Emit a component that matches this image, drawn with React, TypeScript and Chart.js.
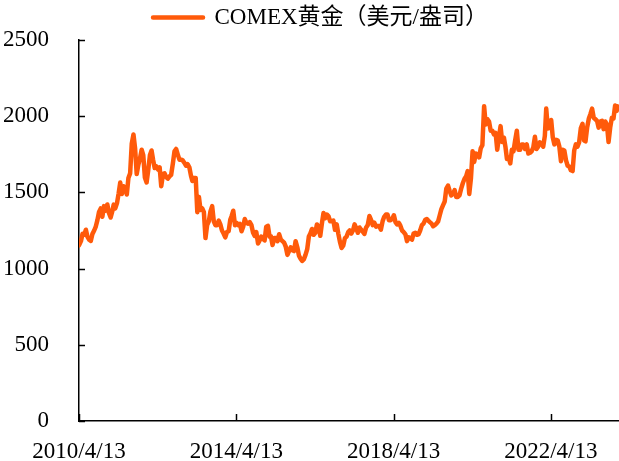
import React, { useEffect, useRef } from "react";
import { Chart, registerables } from "chart.js";

Chart.register(...registerables);

// ---------- data ----------
const SERIES_LABEL = "COMEX黄金（美元/盎司）";
const START_DATE = "2010-04-13";
const START_PRICE = 1152;
const END_DATE = "2023-12-20";
const END_PRICE = 2065;
const AXIS_END_DATE = "2024-01-06";

const X_TICK_DATES = ["2010-04-13", "2014-04-13", "2018-04-13", "2022-04-13"];
const X_TICK_LABELS = ["2010/4/13", "2014/4/13", "2018/4/13", "2022/4/13"];
const Y_MIN = 0;
const Y_MAX = 2500;
const Y_STEP = 500;

// semi-monthly closes (1st and 16th of each month), USD/oz
const FIRST_SLOT_2010 = 8; // 2010 series begins on May 1
const P2010 = [1180, 1228, 1222, 1255, 1208, 1190, 1182, 1228, 1250, 1276, 1318, 1372, 1395, 1340, 1410, 1380];
const P2011 = [1421, 1365, 1335, 1375, 1420, 1395, 1430, 1492, 1565, 1490, 1540, 1530, 1486, 1595, 1625, 1820, 1880, 1790, 1620, 1680, 1725, 1780, 1745, 1598];
const P2012 = [1565, 1645, 1745, 1775, 1715, 1660, 1670, 1650, 1665, 1540, 1620, 1625, 1600, 1590, 1605, 1615, 1690, 1770, 1785, 1750, 1715, 1715, 1710, 1695];
const P2013 = [1675, 1685, 1665, 1610, 1575, 1595, 1595, 1370, 1470, 1385, 1395, 1370, 1200, 1285, 1310, 1375, 1410, 1310, 1285, 1285, 1315, 1290, 1250, 1230];
const P2014 = [1205, 1240, 1245, 1320, 1345, 1380, 1285, 1300, 1285, 1293, 1245, 1275, 1325, 1300, 1295, 1305, 1285, 1235, 1215, 1240, 1165, 1185, 1210, 1195];
const P2015 = [1185, 1275, 1280, 1210, 1212, 1155, 1200, 1200, 1180, 1225, 1190, 1180, 1170, 1145, 1090, 1115, 1140, 1120, 1115, 1180, 1140, 1085, 1065, 1050];
const P2016 = [1062, 1090, 1128, 1210, 1230, 1260, 1222, 1235, 1290, 1275, 1215, 1295, 1365, 1330, 1355, 1345, 1310, 1310, 1315, 1255, 1290, 1228, 1175, 1135];
const P2017 = [1152, 1200, 1210, 1240, 1250, 1230, 1250, 1290, 1265, 1235, 1270, 1255, 1242, 1228, 1270, 1285, 1345, 1320, 1285, 1302, 1275, 1280, 1280, 1255];
const P2018 = [1310, 1340, 1355, 1355, 1318, 1318, 1327, 1350, 1305, 1290, 1300, 1280, 1250, 1240, 1225, 1180, 1205, 1200, 1190, 1230, 1235, 1222, 1225, 1250];
const P2019 = [1285, 1295, 1320, 1325, 1315, 1305, 1295, 1278, 1285, 1295, 1310, 1350, 1390, 1415, 1440, 1525, 1545, 1510, 1480, 1490, 1515, 1470, 1470, 1480];
const P2020 = [1525, 1560, 1590, 1605, 1640, 1490, 1595, 1770, 1700, 1755, 1750, 1730, 1790, 1810, 2065, 1945, 1980, 1965, 1905, 1905, 1880, 1890, 1780, 1860];
const P2021 = [1935, 1830, 1860, 1795, 1720, 1730, 1690, 1780, 1770, 1840, 1905, 1780, 1780, 1815, 1815, 1785, 1815, 1755, 1760, 1770, 1795, 1865, 1785, 1800];
const P2022 = [1828, 1820, 1800, 1870, 2050, 1920, 1925, 1975, 1860, 1815, 1845, 1840, 1800, 1705, 1780, 1775, 1710, 1675, 1670, 1645, 1640, 1775, 1815, 1800];
const P2023 = [1830, 1920, 1950, 1840, 1835, 1925, 1985, 2015, 2050, 1990, 1980, 1970, 1925, 1965, 1970, 1915, 1965, 1945, 1830, 1925, 1990, 1985, 2070, 2035];

const YEARS: [number, number[]][] = [
  [2010, P2010], [2011, P2011], [2012, P2012], [2013, P2013], [2014, P2014],
  [2015, P2015], [2016, P2016], [2017, P2017], [2018, P2018], [2019, P2019],
  [2020, P2020], [2021, P2021], [2022, P2022], [2023, P2023],
];

// ---------- helpers ----------
const DAY = 86400000;
const toUTC = (s: string) => {
  const [y, m, d] = s.split("-").map(Number);
  return Date.UTC(y, m - 1, d);
};
const T0 = toUTC(START_DATE);
const dayIndex = (t: number) => Math.round((t - T0) / DAY);

function buildPoints() {
  const pts: { x: number; y: number }[] = [{ x: 0, y: START_PRICE }];
  for (const [year, vals] of YEARS) {
    const offset = year === 2010 ? FIRST_SLOT_2010 : 0;
    vals.forEach((v, i) => {
      const slot = offset + i;
      const t = Date.UTC(year, Math.floor(slot / 2), slot % 2 ? 16 : 1);
      pts.push({ x: dayIndex(t), y: v });
    });
  }
  pts.push({ x: dayIndex(toUTC(END_DATE)), y: END_PRICE });
  return pts;
}

const FONT_FAMILY = "'Liberation Serif', 'Times New Roman', 'Noto Sans CJK SC', serif";
const LINE_COLOR = "#FF5A0A";

const innerTicks = {
  id: "innerTicks",
  afterDatasetsDraw(chart: any) {
    const { ctx } = chart;
    const xs = chart.scales.x;
    const ys = chart.scales.y;
    ctx.save();
    ctx.strokeStyle = "#000";
    ctx.lineWidth = 1.5;
    ys.ticks.forEach((_: any, i: number) => {
      const py = Math.round(ys.getPixelForTick(i)) + 0.5;
      ctx.beginPath();
      ctx.moveTo(ys.right, py);
      ctx.lineTo(ys.right + 6, py);
      ctx.stroke();
    });
    xs.ticks.forEach((_: any, i: number) => {
      const px = Math.round(xs.getPixelForTick(i)) + 0.5;
      ctx.beginPath();
      ctx.moveTo(px, xs.top);
      ctx.lineTo(px, xs.top - 7);
      ctx.stroke();
    });
    ctx.restore();
  },
};

const LEGEND_DX = 11;
const LEGEND_DY = -1;
const legendShift = {
  id: "legendShift",
  afterLayout(chart: any) {
    const l = chart.legend;
    if (!l) return;
    l.left += LEGEND_DX;
    l.right += LEGEND_DX;
    l.top += LEGEND_DY;
    l.bottom += LEGEND_DY;
  },
};

export default function App() {
  const ref = useRef<HTMLCanvasElement | null>(null);

  useEffect(() => {
    document.body.style.margin = "0";
    const canvas = ref.current;
    if (!canvas) return;
    const tickDays = X_TICK_DATES.map((d) => dayIndex(toUTC(d)));
    const chart = new Chart(canvas, {
      type: "line",
      data: {
        datasets: [
          {
            label: SERIES_LABEL,
            data: buildPoints(),
            borderColor: LINE_COLOR,
            backgroundColor: LINE_COLOR,
            borderWidth: 4.5,
            pointRadius: 0,
            borderJoinStyle: "round",
            borderCapStyle: "round",
            fill: false,
            tension: 0,
          },
        ],
      },
      options: {
        animation: false,
        responsive: false,
        devicePixelRatio: 1,
        layout: { padding: { top: 0, right: 0, bottom: 0, left: 0 } },
        plugins: {
          legend: {
            display: true,
            position: "top",
            labels: {
              font: { family: FONT_FAMILY, size: 23 },
              color: "#000",
              boxWidth: 50,
              boxHeight: 0,
              padding: 7,
            },
          },
          tooltip: { enabled: false },
        },
        scales: {
          x: {
            type: "linear",
            min: 0,
            max: dayIndex(toUTC(AXIS_END_DATE)),
            grid: { display: false },
            border: { display: true, color: "#000", width: 1.5 },
            ticks: {
              font: { family: FONT_FAMILY, size: 23 },
              color: "#000",
              padding: 9,
              maxRotation: 0,
              autoSkip: false,
              callback: (v: any) => {
                const i = tickDays.indexOf(Number(v));
                return i >= 0 ? X_TICK_LABELS[i] : "";
              },
            },
            afterBuildTicks: (s: any) => {
              s.ticks = tickDays.map((v) => ({ value: v }));
            },
            afterFit: (s: any) => {
              s.height = 40;
            },
          },
          y: {
            min: Y_MIN,
            max: Y_MAX,
            grid: { display: false },
            border: { display: true, color: "#000", width: 1.5 },
            ticks: {
              stepSize: Y_STEP,
              font: { family: FONT_FAMILY, size: 23 },
              color: "#000",
              padding: 22,
              callback: (v: any) => String(v),
            },
            afterFit: (s: any) => {
              s.width = 79;
            },
          },
        },
      },
      plugins: [innerTicks, legendShift],
    } as any);
    return () => chart.destroy();
  }, []);

  return (
    <div style={{ position: "absolute", left: 0, top: 0, width: 619, height: 461 }}>
      <canvas ref={ref} width={619} height={461} style={{ display: "block" }} />
    </div>
  );
}
